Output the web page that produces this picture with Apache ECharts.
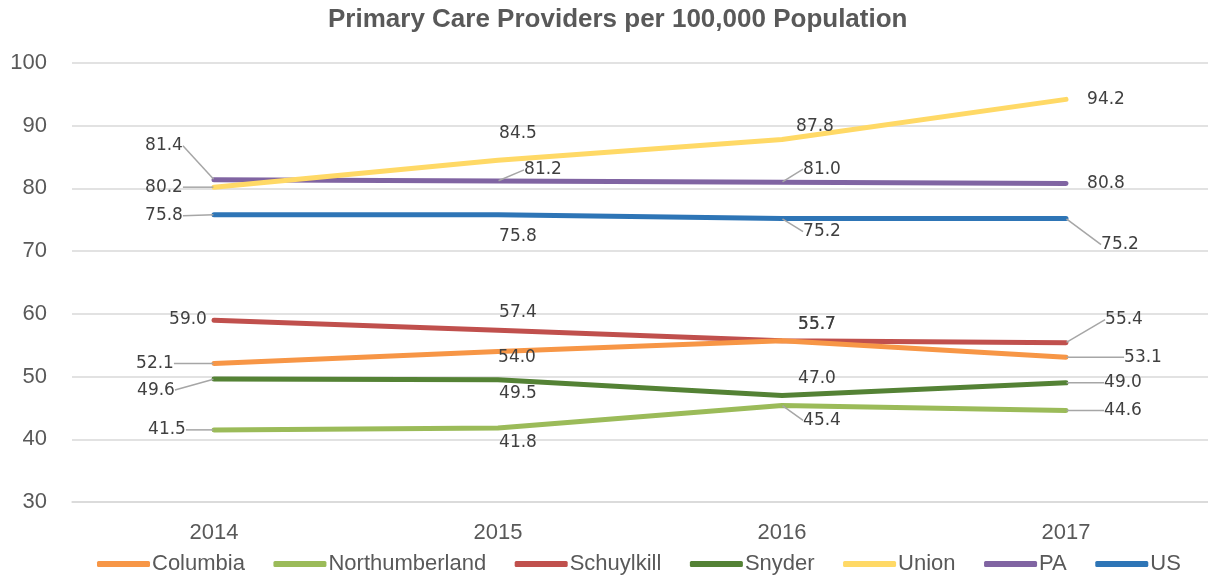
<!DOCTYPE html>
<html><head><meta charset="utf-8">
<script src="https://cdn.jsdelivr.net/npm/echarts@6/dist/echarts.min.js"></script>
<style>html,body{margin:0;padding:0;background:#fff}#c{width:1208px;height:578px}</style>
</head><body><div id="c"></div>
<script>
const categories = ['2014', '2015', '2016', '2017'];
const seriesNames = ['Columbia', 'Northumberland', 'Schuylkill', 'Snyder', 'Union', 'PA', 'US'];
const columbia = [52.1, 54.0, 55.7, 53.1];
const northumberland = [41.5, 41.8, 45.4, 44.6];
const schuylkill = [59.0, 57.4, 55.7, 55.4];
const snyder = [49.6, 49.5, 47.0, 49.0];
const union = [80.2, 84.5, 87.8, 94.2];
const pa = [81.4, 81.2, 81.0, 80.8];
const us = [75.8, 75.8, 75.2, 75.2];
const yTicks = [30, 40, 50, 60, 70, 80, 90, 100];

const values = [columbia, northumberland, schuylkill, snyder, union, pa, us];
const colors = ['#F79646', '#9BBB59', '#C0504D', '#548235', '#FFD966', '#8064A2', '#2E75B6'];
// label offsets (dx, dy, leader) relative to each point
const labelOffsets = [
  [[-59, 0, 1], [19, 6, 0], [35, -16, 0], [77, 0, 1]],
  [[-47, 0, 1], [20, 15, 0], [40, 15, 1], [57, 0, 1]],
  [[-26, -1, 0], [20, -18, 0], [35, -16, 0], [58, -23, 1]],
  [[-58, 11, 1], [20, 14, 0], [35, -17, 0], [57, 0, 1]],
  [[-50, 0, 1], [20, -27, 0], [33, -13, 0], [40, 0, 0]],
  [[-50, -34, 1], [45, -11, 1], [40, -13, 1], [40, 0, 0]],
  [[-50, 1, 1], [20, 22, 0], [40, 13, 1], [54, 26, 1]]
];

const FONT = 'Liberation Sans';

const series = seriesNames.map((name, si) => ({
  name: name,
  type: 'line',
  data: values[si].map((v, di) => ({
    value: v,
    labelLine: { show: !!labelOffsets[si][di][2] }
  })),
  symbol: 'circle',
  symbolSize: 1,
  showSymbol: true,
  lineStyle: { width: 5, color: colors[si], cap: 'round' },
  itemStyle: { color: colors[si] },
  label: {
    show: true,
    formatter: p => p.value.toFixed(1),
    fontFamily: 'DejaVu Sans',
    fontSize: 17,
    color: '#404040'
  },
  labelLine: { show: true, lineStyle: { color: '#a6a6a6', width: 1.5 } },
  labelLayout: function (p) {
    const o = labelOffsets[si][p.dataIndex];
    return {
      x: p.rect.x + p.rect.width / 2 + o[0],
      y: p.rect.y + p.rect.height / 2 + o[1],
      align: 'center',
      verticalAlign: 'middle'
    };
  },
  emphasis: { disabled: true },
  z: 10 - si
}));

const chart = echarts.init(document.getElementById('c'), null, { renderer: 'canvas' });
chart.setOption({
  animation: false,
  backgroundColor: '#ffffff',
  color: colors,
  title: {
    text: 'Primary Care Providers per 100,000 Population',
    left: 328,
    top: 7,
    padding: 0,
    textStyle: { fontFamily: FONT, fontWeight: 'bold', fontSize: 26, lineHeight: 26, color: '#595959' }
  },
  legend: {
    top: 553,
    left: 97,
    padding: 0,
    icon: 'roundRect',
    itemWidth: 53,
    itemHeight: 6,
    itemGap: 28.5,
    textStyle: { fontFamily: FONT, fontSize: 22, lineHeight: 22, color: '#595959', padding: [0, 0, 0, -3] },
    data: seriesNames
  },
  grid: { left: 72, top: 63, width: 1142, height: 439, containLabel: false },
  xAxis: {
    type: 'category',
    data: categories,
    boundaryGap: true,
    axisLine: { show: true, lineStyle: { color: '#d9d9d9', width: 1.5 } },
    axisTick: { show: false },
    axisLabel: { fontFamily: FONT, fontSize: 22, color: '#595959', margin: 20 }
  },
  yAxis: {
    type: 'value',
    min: yTicks[0],
    max: yTicks[yTicks.length - 1],
    interval: 10,
    axisLine: { show: false },
    axisTick: { show: false },
    splitLine: { lineStyle: { color: '#d9d9d9', width: 1.5 } },
    axisLabel: { fontFamily: FONT, fontSize: 22, color: '#595959', margin: 25 }
  },
  series: series
});
</script>
</body></html>
